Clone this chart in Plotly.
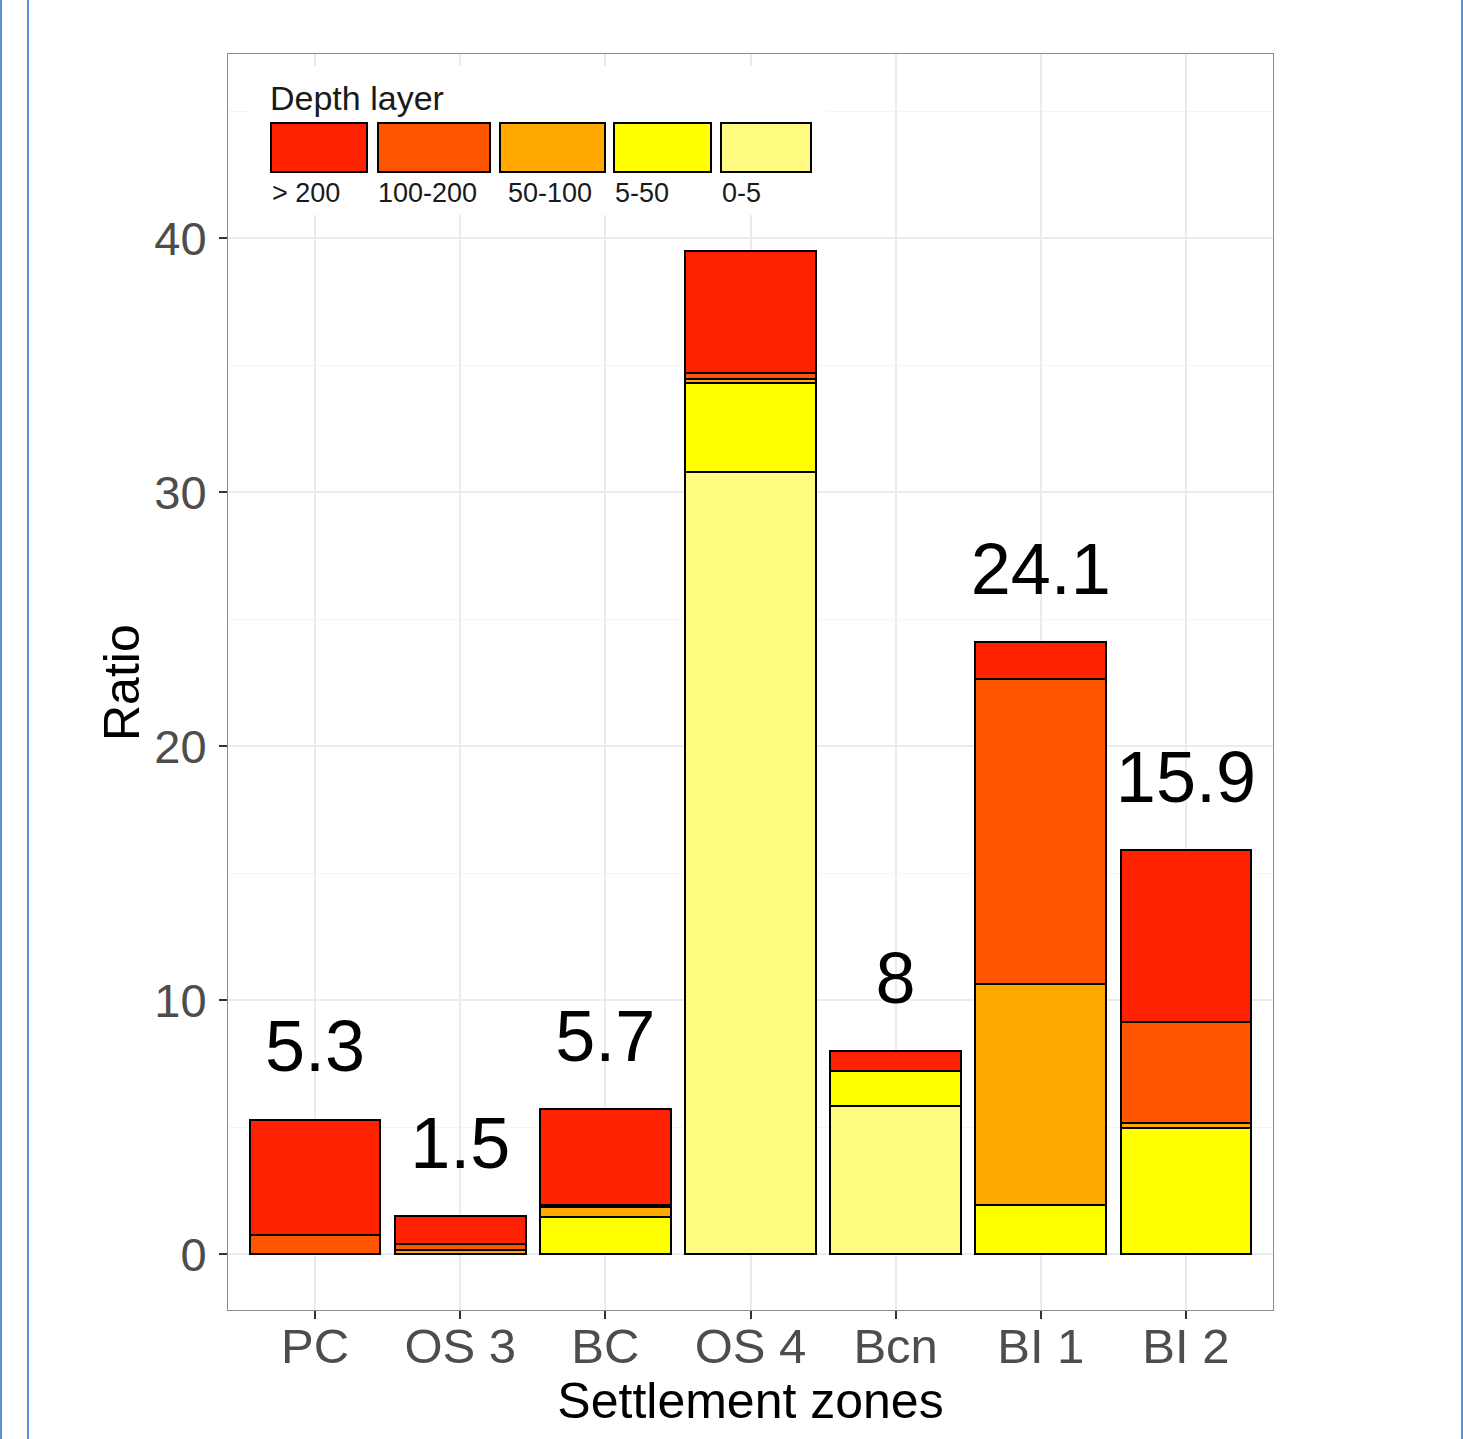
import plotly.graph_objects as go

# ---- data ----
categories = ["PC", "OS 3", "BC", "OS 4", "Bcn", "BI 1", "BI 2"]
layer_names = ["0-5", "5-50", "50-100", "100-200", "> 200"]
v_0_5 = [0, 0, 0, 30.8, 5.85, 0, 0]
v_5_50 = [0, 0, 1.45, 3.5, 1.35, 1.95, 4.95]
v_50_100 = [0, 0.18, 0.4, 0.15, 0, 8.7, 0.2]
v_100_200 = [0.75, 0.2, 0.1, 0.25, 0, 12.0, 4.0]
v_gt200 = [4.55, 1.12, 3.75, 4.8, 0.8, 1.45, 6.75]
totals = [5.3, 1.5, 5.7, 39.5, 8.0, 24.1, 15.9]
total_labels = ["5.3", "1.5", "5.7", "", "8", "24.1", "15.9"]  # OS 4 label hidden by legend
y_ticks = [0, 10, 20, 30, 40]

colors = {"> 200": "#FF2200", "100-200": "#FF5500", "50-100": "#FFA800",
          "5-50": "#FFFF00", "0-5": "#FFFA80"}
series = [v_0_5, v_5_50, v_50_100, v_100_200, v_gt200]

FONT = "Liberation Sans, Arial, sans-serif"
W, H = 1463, 1439
L, R, T, B = 228, 190, 54, 129
PW, PH = W - L - R, H - T - B

def xp(px):
    return (px - L) / PW

def yp(py):
    return (H - B - py) / PH

fig = go.Figure()
for name, vals in zip(layer_names, series):
    fig.add_trace(go.Bar(
        x=categories, y=vals, name=name, width=0.9,
        marker=dict(color=colors[name], line=dict(color="black", width=2)),
        showlegend=False))

fig.add_trace(go.Scatter(
    x=categories, y=[t + 2.6 for t in totals], text=total_labels,
    mode="text", textposition="middle center",
    textfont=dict(family=FONT, size=72, color="black"), showlegend=False))

shapes = []
annotations = []
# legend background (covers grid)
shapes.append(dict(type="rect", xref="paper", yref="paper", layer="above",
                   x0=xp(251), x1=xp(827), y0=yp(215), y1=yp(66),
                   fillcolor="white", line=dict(width=0)))
legend_order = ["> 200", "100-200", "50-100", "5-50", "0-5"]
box_x = [(271, 367), (378, 490), (500, 605), (614, 711), (721, 811)]
label_x = [270, 376, 506, 613, 720]
for name, (a, b), lx in zip(legend_order, box_x, label_x):
    shapes.append(dict(type="rect", xref="paper", yref="paper", layer="above",
                       x0=xp(a), x1=xp(b), y0=yp(172), y1=yp(123),
                       fillcolor=colors[name], line=dict(color="black", width=2)))
    annotations.append(dict(xref="paper", yref="paper", x=xp(lx), y=yp(193),
                            text=name, showarrow=False, xanchor="left", yanchor="middle",
                            font=dict(family=FONT, size=27, color="#1a1a1a")))
annotations.append(dict(xref="paper", yref="paper", x=xp(268), y=yp(98),
                        text="Depth layer", showarrow=False, xanchor="left", yanchor="middle",
                        font=dict(family=FONT, size=34, color="#1a1a1a")))
# y axis title
annotations.append(dict(xref="paper", yref="paper", x=xp(122), y=yp(683),
                        text="Ratio", showarrow=False, textangle=-90,
                        xanchor="center", yanchor="middle",
                        font=dict(family=FONT, size=50, color="black")))

# page edge lines from the original screenshot
for px in (1, 28, 1462):
    shapes.append(dict(type="line", xref="paper", yref="paper", layer="above",
                       x0=xp(px), x1=xp(px), y0=yp(H), y1=yp(0),
                       line=dict(color="#5B8DDB", width=2)))

fig.update_layout(
    width=W, height=H, barmode="stack", bargap=0.1,
    plot_bgcolor="white", paper_bgcolor="white",
    margin=dict(l=L, r=R, t=T, b=B, autoexpand=False),
    font=dict(family=FONT),
    shapes=shapes, annotations=annotations,
)
fig.update_xaxes(
    range=[-0.6, 6.6], showgrid=True, gridcolor="#EBEBEB", gridwidth=1.5,
    ticks="outside", ticklen=8, tickwidth=1.5, tickcolor="#333333",
    tickfont=dict(family=FONT, size=49, color="#4D4D4D"), ticklabelstandoff=-15,
    showline=True, mirror=True, linecolor="#8c8c8c", linewidth=1,
    title=dict(text="Settlement zones", font=dict(family=FONT, size=50, color="black"), standoff=4),
    automargin=False, zeroline=False)
fig.update_yaxes(
    range=[-2.2, 47.25], tickvals=y_ticks, showgrid=True, gridcolor="#EBEBEB", gridwidth=1.5,
    minor=dict(dtick=5, tick0=0, showgrid=True, gridcolor="#F5F5F5", gridwidth=1),
    ticks="outside", ticklen=8, tickwidth=1.5, tickcolor="#333333",
    tickfont=dict(family=FONT, size=47, color="#4D4D4D"), ticklabelstandoff=3,
    showline=True, mirror=True, linecolor="#8c8c8c", linewidth=1,
    automargin=False, zeroline=False)

fig.write_html("out.html", config={"displayModeBar": False},
               post_script="document.body.style.margin='0';document.body.style.overflow='hidden';")
